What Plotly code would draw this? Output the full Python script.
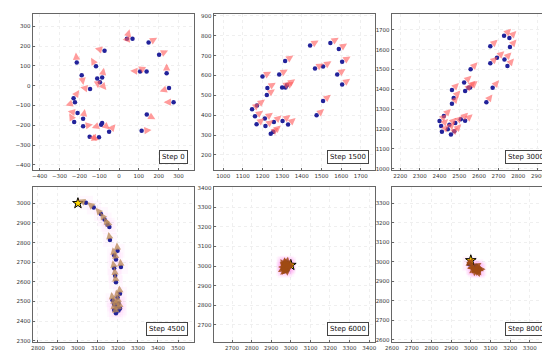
import math
import plotly.graph_objects as go

# ---------------- data ----------------
steps = ["Step 0", "Step 1500", "Step 3000", "Step 4500", "Step 6000", "Step 8000"]

p1_x = [40, 68, 149, -73, 202, -213, -116, 106, 139, 240, -188, -110, -85, -96, -146, 252, -229, -222, 275, -209, 140, -226, -181, -181, -90, -85, -50, 114, -148, -101]
p1_y = [237, 237, 218, 177, 157, 118, 98, 72, 72, 63, 53, 37, 42, 17, -17, -12, -63, -83, -83, -138, -145, -183, -167, -205, -197, -188, -233, -228, -258, -260]
p1_a = [75, 185, 30, 165, 25, 95, 120, 175, 150, 90, -80, -85, 80, -50, 170, 200, 55, 200, 180, 170, -30, 120, 80, 10, 200, -40, 50, 5, -20, 185]

p2_x = [1442, 1545, 1588, 1605, 1315, 1285, 1200, 1580, 1508, 1467, 1605, 1225, 1317, 1300, 1325, 1222, 1147, 1172, 1162, 1475, 1508, 1212, 1170, 1215, 1258, 1302, 1330, 1242, 1255]
p2_y = [751, 764, 734, 669, 673, 605, 595, 605, 645, 635, 555, 537, 540, 540, 552, 502, 430, 449, 394, 399, 472, 383, 354, 346, 366, 371, 353, 306, 316]
p2_a = [30, 32, 33, 32, 33, 30, 28, 33, 32, 30, 35, 32, 35, 33, 35, 35, 38, 36, 35, 40, 38, 35, 38, 36, 40, 36, 40, 38, 40]

p3_x = [2728, 2755, 2658, 2758, 2692, 2730, 2658, 2745, 2558, 2525, 2547, 2530, 2463, 2670, 2472, 2463, 2638, 2422, 2400, 2408, 2450, 2480, 2508, 2530, 2412, 2442, 2475, 2458, 2555]
p3_y = [1670, 1659, 1617, 1614, 1559, 1551, 1531, 1518, 1501, 1435, 1408, 1392, 1397, 1408, 1357, 1327, 1335, 1266, 1241, 1216, 1222, 1231, 1249, 1242, 1186, 1199, 1189, 1173, 1410]
p3_a = [45, 45, 42, 48, 42, 45, 42, 48, 45, 42, 45, 45, 45, 50, 48, 50, 52, 45, 42, 45, 45, 45, 42, 40, 45, 45, 45, 45, 40]

p4_x = [3040, 3079, 3115, 3133, 3148, 3157, 3160, 3198, 3181, 3190, 3215, 3181, 3186, 3190, 3210, 3198, 3181, 3193, 3210, 3203, 3190, 3181, 3203, 3173]
p4_y = [3003, 2978, 2945, 2917, 2891, 2879, 2813, 2758, 2735, 2714, 2676, 2669, 2631, 2598, 2540, 2520, 2485, 2477, 2465, 2454, 2440, 2457, 2490, 2507]
p4_a = [160, 140, 130, 120, 115, 110, 100, 95, 100, 98, 95, 100, 95, 98, 95, 100, 98, 95, 95, 98, 100, 95, 100, 98]

p5_x = [2962, 2968, 2975, 2980, 2985, 2990, 2965, 2972, 2978, 2984, 2960, 2970, 2976, 2982, 2988, 2966, 2974, 2981, 2992, 2969]
p5_y = [3010, 3015, 3005, 3018, 3008, 3002, 2995, 2990, 2998, 2992, 2985, 2982, 2988, 2980, 2995, 3002, 3012, 3000, 3012, 2975]
p5_a = [120, 90, 150, 80, 60, 30, 180, 200, 160, 250, 210, 240, 190, 270, 20, 140, 100, 0, 45, 220]

p6_x = [2992, 2996, 3010, 3018, 3025, 3032, 3040, 3015, 3022, 3030, 3038, 3045, 3012, 3028, 3035, 3020]
p6_y = [2987, 2993, 2975, 2968, 2972, 2962, 2966, 2960, 2955, 2957, 2955, 2962, 2968, 2978, 2950, 2965]
p6_a = [90, 60, 200, 250, 300, 280, 330, 220, 260, 270, 300, 0, 180, 30, 290, 240]

targets_x = [3000, 3000, 3000]
targets_y = [3000, 3005, 3007]

# tick labels per panel (first, last; step 100)
xtick_first = [-400, 1000, 2200, 2800, 2700, 2600]
xtick_last = [300, 1700, 2900, 3500, 3400, 3300]
ytick_first = [-400, 200, 1000, 2300, 2700, 2600]
ytick_last = [300, 900, 1700, 3000, 3400, 3300]

xranges = [[-435, 378], [952, 1772], [2157, 2977], [2774, 3580], [2606, 3430], [2598, 3418]]
yranges = [[-427, 363], [123, 910], [993, 1780], [2293, 3083], [2610, 3405], [2588, 3383]]

panels = [(p1_x, p1_y, p1_a), (p2_x, p2_y, p2_a), (p3_x, p3_y, p3_a),
          (p4_x, p4_y, p4_a), (p5_x, p5_y, p5_a), (p6_x, p6_y, p6_a)]

# ---------------- layout geometry ----------------
W, H = 550, 352
cols_px = [(18, 182), (202, 366), (383, 547)]
rows_px = [(4, 162), (179, 336)]

fig = go.Figure()
layout = dict(width=W, height=H, margin=dict(l=0, r=0, t=0, b=0),
              paper_bgcolor="white", plot_bgcolor="white", showlegend=False,
              font=dict(family="DejaVu Sans", size=6, color="#333"))
annotations = []

arrow_len = [50, 50, 50, 42, 30, 30]
arrow_col = ["rgba(255,95,95,0.62)", "rgba(255,95,95,0.62)", "rgba(255,95,95,0.62)",
             "rgba(185,135,85,0.75)", "rgba(160,75,20,0.85)", "rgba(160,75,20,0.85)"]

for i, (px, py, pa) in enumerate(panels):
    r, c = divmod(i, 3)
    n = i + 1
    xa = "xaxis" if n == 1 else f"xaxis{n}"
    ya = "yaxis" if n == 1 else f"yaxis{n}"
    xr = "x" if n == 1 else f"x{n}"
    yr = "y" if n == 1 else f"y{n}"
    x0, x1 = cols_px[c]
    y0, y1 = rows_px[r]
    common = dict(showline=True, linecolor="#666", linewidth=1, mirror=True,
                  showgrid=True, gridcolor="#efefef", gridwidth=0.5, griddash="dot",
                  zeroline=False, ticks="inside", ticklen=2, tickcolor="#666",
                  tickfont=dict(size=5.5, color="#333"))
    xt = list(range(xtick_first[i], xtick_last[i] + 1, 100))
    yt = list(range(ytick_first[i], ytick_last[i] + 1, 100))
    layout[xa] = dict(common, domain=[x0 / W, x1 / W], range=xranges[i], anchor=yr, tickvals=xt)
    layout[ya] = dict(common, domain=[1 - y1 / H, 1 - y0 / H], range=yranges[i], anchor=xr, tickvals=yt)

    if i >= 3:
        # faint pink coverage regions
        fig.add_trace(go.Scatter(x=px, y=py, mode="markers", xaxis=xr, yaxis=yr,
                                 marker=dict(symbol="square", size=14, color="rgba(255,130,235,0.06)",
                                             line=dict(width=0)), hoverinfo="skip"))
    fig.add_trace(go.Scatter(x=px, y=py, mode="markers", xaxis=xr, yaxis=yr,
                             marker=dict(symbol="circle", size=4.5, color="#22229a"), hoverinfo="skip"))
    L = arrow_len[i]
    for xv, yv, av in zip(px, py, pa):
        tx = xv + L * math.cos(math.radians(av))
        ty = yv + L * math.sin(math.radians(av))
        annotations.append(dict(x=tx, y=ty, ax=xv, ay=yv, xref=xr, yref=yr, axref=xr, ayref=yr,
                                text="", showarrow=True, arrowhead=2, arrowsize=0.9,
                                arrowwidth=1.6, arrowcolor=arrow_col[i], standoff=0, startstandoff=2))
    if i >= 3:
        fig.add_trace(go.Scatter(x=[targets_x[i - 3]], y=[targets_y[i - 3]], mode="markers",
                                 xaxis=xr, yaxis=yr, hoverinfo="skip",
                                 marker=dict(symbol="star", size=8, color="gold",
                                             line=dict(color="black", width=1))))
    annotations.append(dict(text=steps[i], xref=f"{xr} domain", yref=f"{yr} domain",
                            x=0.96, y=0.04, xanchor="right", yanchor="bottom", showarrow=False,
                            font=dict(size=7, color="#111"), bgcolor="white",
                            bordercolor="#444", borderwidth=1, borderpad=2))

layout["annotations"] = annotations
fig.update_layout(**layout)
fig.write_html("out.html")
